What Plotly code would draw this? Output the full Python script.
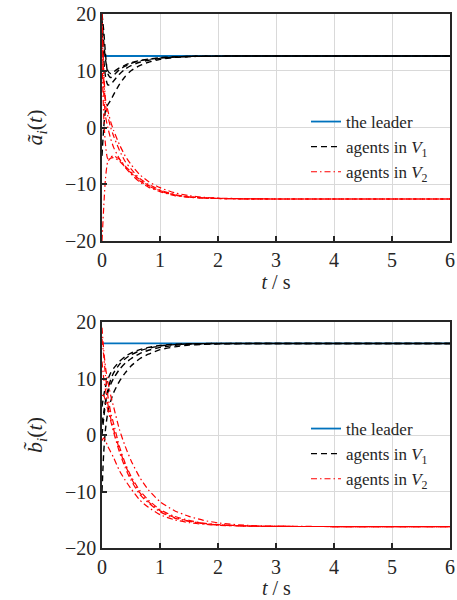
import plotly.graph_objects as go

# ---------------- data ----------------
t = [0, 0.03, 0.06, 0.1, 0.15, 0.2, 0.3, 0.4, 0.5, 0.65, 0.8, 1.0, 1.25, 1.5, 1.75, 2.0, 2.5, 3.0, 4.0, 5.0, 6.0]
t_leader = [0, 6]

leader_a = [12.6, 12.6]
leader_b = [16.2, 16.2]

# agents in V1, panel a
a_v1_1 = [19, 15, 12, 10, 9.5, 9.8, 10.5, 11.0, 11.4, 11.8, 12.05, 12.3, 12.45, 12.52, 12.56, 12.58, 12.6, 12.6, 12.6, 12.6, 12.6]
a_v1_2 = [17, 12, 9, 7.5, 7.6, 8.2, 9.4, 10.3, 10.9, 11.5, 11.85, 12.15, 12.4, 12.5, 12.55, 12.58, 12.6, 12.6, 12.6, 12.6, 12.6]
a_v1_3 = [-5, 0, 3, 4, 4.8, 5.8, 7.6, 9.0, 10.0, 10.9, 11.5, 12.0, 12.35, 12.5, 12.55, 12.58, 12.6, 12.6, 12.6, 12.6, 12.6]
a_v1_4 = [20, 17, 13, 9.5, 8.8, 9.2, 10.2, 10.8, 11.3, 11.75, 12.0, 12.25, 12.42, 12.52, 12.56, 12.58, 12.6, 12.6, 12.6, 12.6, 12.6]

# agents in V2, panel a
a_v2_1 = [20, 10, 5, 3, 1, -0.5, -3, -5, -6.5, -8.3, -9.5, -10.6, -11.5, -12.0, -12.3, -12.45, -12.55, -12.6, -12.6, -12.6, -12.6]
a_v2_2 = [18, 9, 4, 2, 0, -1.5, -4, -6, -7.3, -9, -10, -11, -11.8, -12.2, -12.4, -12.5, -12.57, -12.6, -12.6, -12.6, -12.6]
a_v2_3 = [16, 6, 2, 0, -2, -3.5, -5.5, -7, -8.2, -9.6, -10.5, -11.3, -12.0, -12.3, -12.45, -12.52, -12.58, -12.6, -12.6, -12.6, -12.6]
a_v2_4 = [-20, -14, -9, -6, -5.4, -5.3, -5.9, -7.0, -8.0, -9.4, -10.3, -11.2, -11.9, -12.25, -12.42, -12.5, -12.57, -12.6, -12.6, -12.6, -12.6]
a_v2_5 = [12, 2, -3, -5.5, -5.2, -5.0, -5.6, -6.8, -7.8, -9.2, -10.2, -11.1, -11.85, -12.2, -12.4, -12.5, -12.57, -12.6, -12.6, -12.6, -12.6]

# agents in V1, panel b
b_v1_1 = [5, 7, 8.5, 9.8, 11, 11.8, 13, 13.9, 14.5, 15.1, 15.5, 15.85, 16.05, 16.15, 16.18, 16.2, 16.2, 16.2, 16.2, 16.2, 16.2]
b_v1_2 = [2, 4, 6, 7.5, 9, 10, 11.6, 12.7, 13.5, 14.4, 15, 15.5, 15.85, 16.05, 16.13, 16.17, 16.2, 16.2, 16.2, 16.2, 16.2]
b_v1_3 = [-10, -3, 1, 4, 6, 7.5, 9.5, 11, 12.2, 13.5, 14.3, 15.1, 15.6, 15.9, 16.05, 16.13, 16.18, 16.2, 16.2, 16.2, 16.2]
b_v1_4 = [0, 3, 5.5, 8, 9.8, 11, 12.5, 13.5, 14.2, 14.9, 15.35, 15.75, 16.0, 16.12, 16.17, 16.19, 16.2, 16.2, 16.2, 16.2, 16.2]

# agents in V2, panel b
b_v2_1 = [19, 15, 12, 9.5, 7, 5, 1, -2, -4.5, -7.5, -9.7, -11.8, -13.4, -14.4, -15.1, -15.55, -16.0, -16.15, -16.2, -16.2, -16.2]
b_v2_2 = [17, 14, 10.5, 7, 4, 2, -2, -5, -7.3, -9.8, -11.5, -13.2, -14.4, -15.1, -15.6, -15.85, -16.1, -16.18, -16.2, -16.2, -16.2]
b_v2_3 = [7, 7, 6, 4.5, 2.5, 0.5, -3, -5.8, -8, -10.5, -12, -13.6, -14.7, -15.3, -15.7, -15.92, -16.12, -16.18, -16.2, -16.2, -16.2]
b_v2_4 = [-1, -0.5, -1, -2, -3, -4, -6.3, -8, -9.5, -11.5, -12.8, -14.1, -15, -15.5, -15.8, -15.97, -16.13, -16.18, -16.2, -16.2, -16.2]
b_v2_5 = [13, 10, 8, 5.5, 3, 1, -2.5, -5.3, -7.6, -10.2, -11.8, -13.4, -14.6, -15.2, -15.65, -15.9, -16.1, -16.18, -16.2, -16.2, -16.2]

x_ticks = [0, 1, 2, 3, 4, 5, 6]
y_ticks = [-20, -10, 0, 10, 20]

# ---------------- styles ----------------
FONT = "Liberation Serif, Tinos, Times New Roman, DejaVu Serif, serif"
BLUE = "#0072BD"
BLACK = "#000000"
RED = "#FF0000"
DASH = "6px,4px"
DASHDOT = "6px,3px,1.5px,3px"

fig = go.Figure()

def add_panel(xa, ya, legend, leader, v1, v2):
    fig.add_trace(go.Scatter(x=t_leader, y=leader, mode="lines", xaxis=xa, yaxis=ya,
                             line=dict(color=BLUE, width=1.8), name="the leader",
                             legend=legend, showlegend=True))
    for i, s in enumerate(v1):
        fig.add_trace(go.Scatter(x=t, y=s, mode="lines", xaxis=xa, yaxis=ya,
                                 line=dict(color=BLACK, width=1.4, dash=DASH, shape="spline", smoothing=0.6),
                                 name="agents in <i>V</i><sub>1</sub>", legend=legend,
                                 showlegend=(i == 0)))
    for i, s in enumerate(v2):
        fig.add_trace(go.Scatter(x=t, y=s, mode="lines", xaxis=xa, yaxis=ya,
                                 line=dict(color=RED, width=1.2, dash=DASHDOT, shape="spline", smoothing=0.6),
                                 name="agents in <i>V</i><sub>2</sub>", legend=legend,
                                 showlegend=(i == 0)))

add_panel("x", "y", "legend", leader_a, [a_v1_1, a_v1_2, a_v1_3, a_v1_4],
          [a_v2_1, a_v2_2, a_v2_3, a_v2_4, a_v2_5])
add_panel("x2", "y2", "legend2", leader_b, [b_v1_1, b_v1_2, b_v1_3, b_v1_4],
          [b_v2_1, b_v2_2, b_v2_3, b_v2_4, b_v2_5])

W, H = 457, 600
xdom = [102 / W, 450 / W]
ydom1 = [1 - 241 / H, 1 - 14 / H]
ydom2 = [1 - 548 / H, 1 - 322 / H]

tickfont = dict(family=FONT, size=20, color="#262626")
common_x = dict(range=[0, 6], tickvals=x_ticks, ticks="inside", ticklen=5, tickwidth=1.5,
                tickcolor="#262626", showline=True, linecolor="#262626", linewidth=1.6,
                mirror=True, showgrid=True, gridcolor="#d9d9d9", gridwidth=1,
                zeroline=False, tickfont=tickfont, domain=xdom, fixedrange=True,
                automargin=False)
common_y = dict(range=[-20, 20], tickvals=y_ticks, ticktext=["\u221220", "\u221210", "0", "10", "20"],
                ticks="inside", ticklen=5, tickwidth=1.5,
                tickcolor="#262626", showline=True, linecolor="#262626", linewidth=1.6,
                mirror=True, showgrid=True, gridcolor="#d9d9d9", gridwidth=1,
                zeroline=False, tickfont=tickfont, fixedrange=True, automargin=False)

title_font = dict(family=FONT, size=20, color="#262626")
xtitle = dict(text="<i>t</i> / s", font=title_font, standoff=2)

fig.update_layout(
    width=W, height=H,
    margin=dict(l=0, r=0, t=0, b=0),
    font=dict(family=FONT, color="#262626"),
    paper_bgcolor="white", plot_bgcolor="white",
    xaxis=dict(common_x, anchor="y", title=xtitle),
    yaxis=dict(common_y, domain=ydom1, anchor="x",
               title=dict(text="<i>a\u0303</i><sub><i>i</i></sub>(<i>t</i>)",
                          font=dict(family=FONT, size=22, color="#262626"), standoff=16)),
    xaxis2=dict(common_x, anchor="y2"),
    yaxis2=dict(common_y, domain=ydom2, anchor="x2",
                title=dict(text="<i>b\u0303</i><sub><i>i</i></sub>(<i>t</i>)",
                           font=dict(family=FONT, size=22, color="#262626"), standoff=16)),
    legend=dict(x=306 / W, y=1 - 104 / H, xanchor="left", yanchor="top",
                bgcolor="rgba(0,0,0,0)", font=dict(family=FONT, size=17, color="#262626"),
                tracegroupgap=0, itemwidth=30),
    legend2=dict(x=306 / W, y=1 - 411 / H, xanchor="left", yanchor="top",
                 bgcolor="rgba(0,0,0,0)", font=dict(family=FONT, size=17, color="#262626"),
                 tracegroupgap=0, itemwidth=30),
    annotations=[dict(text="<i>t</i> / s", font=title_font, showarrow=False,
                      xref="x2 domain", yref="paper", x=0.5, y=1 - 588 / H,
                      xanchor="center", yanchor="middle")],
)

fig.write_html("out.html")
